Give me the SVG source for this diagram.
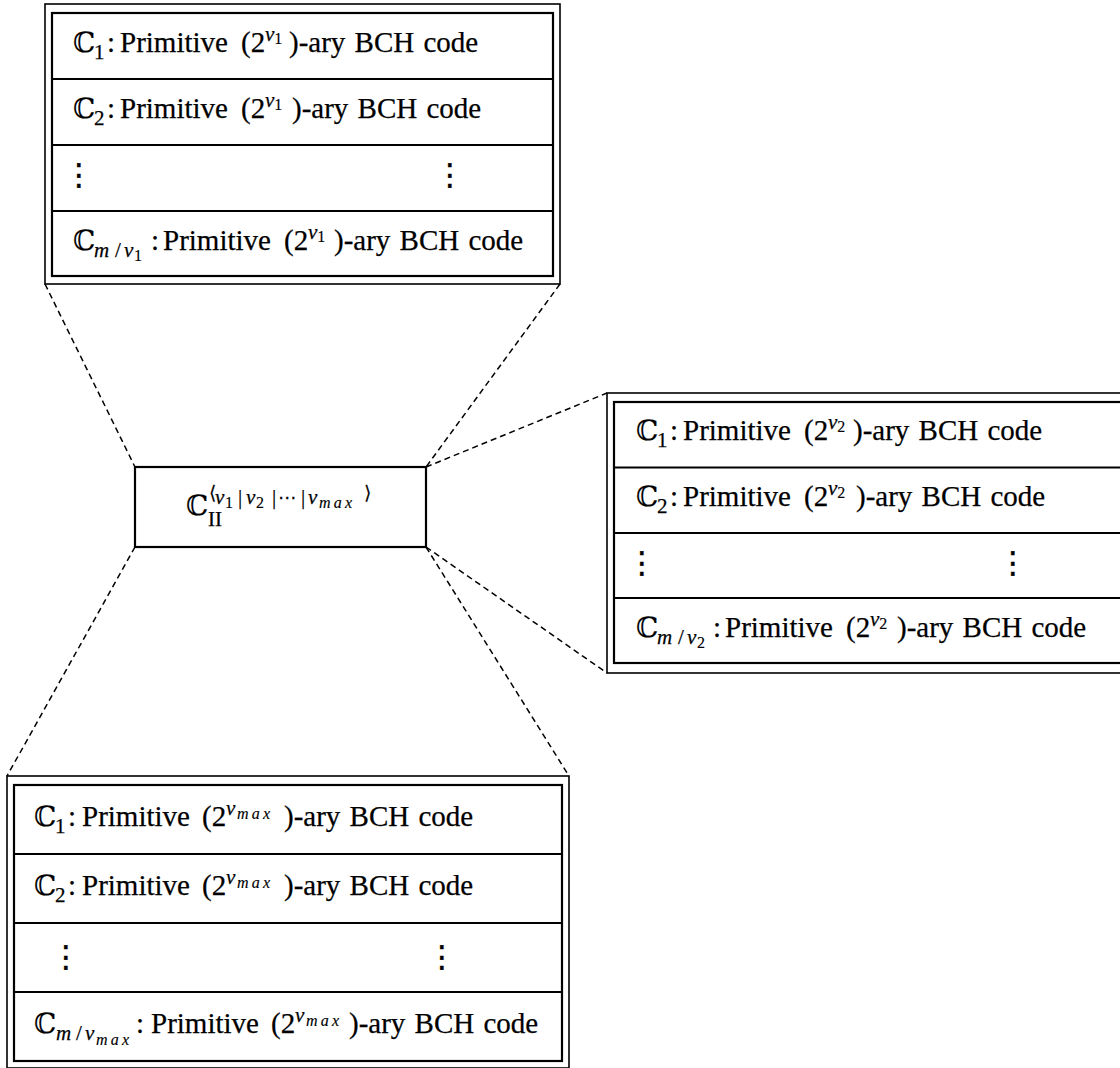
<svg xmlns="http://www.w3.org/2000/svg" width="1120" height="1068" viewBox="0 0 1120 1068" font-family="'Liberation Serif', 'Times New Roman', serif">
<style>
.bg{fill:#fff}
.outer{fill:none;stroke:#000;stroke-width:1.6}
.inner{fill:none;stroke:#000;stroke-width:2.2}
.row{stroke:#000;stroke-width:2}
.conn{fill:none;stroke:#000;stroke-width:1.5;stroke-dasharray:6 4}
.t{font-family:'Liberation Serif','Times New Roman',serif;font-size:29px;fill:#000;stroke:#000;stroke-width:0.25;word-spacing:2px}
.bb{font-family:'DejaVu Serif','DejaVu Sans',serif;font-size:28px;stroke-width:0.15}
.s1{font-size:21px}
.it{font-style:italic}
.sp{font-size:21px;font-style:italic}
.ss{font-size:16px;stroke-width:0.15}
.dots{font-family:'DejaVu Sans',sans-serif;font-size:30px;fill:#000;stroke:#000;stroke-width:0.5}
.sym{font-family:'DejaVu Sans',sans-serif;font-size:19px;stroke-width:0.15}
</style>
<rect class="bg" x="0" y="0" width="1120" height="1068"/>
<g id="connectors">
<line class="conn" x1="45" y1="284" x2="135" y2="467"/>
<line class="conn" x1="560" y1="284" x2="426" y2="467"/>
<line class="conn" x1="426" y1="467" x2="607" y2="393"/>
<line class="conn" x1="426" y1="547" x2="607" y2="673"/>
<line class="conn" x1="135" y1="547" x2="7" y2="776"/>
<line class="conn" x1="426" y1="547" x2="569" y2="776"/>
</g>
<g id="top-box">
<rect class="outer" x="45" y="4" width="515" height="280"/>
<rect class="inner" x="52" y="13" width="501" height="263"/>
<line class="row" x1="52" y1="79" x2="553" y2="79"/>
<line class="row" x1="52" y1="145" x2="553" y2="145"/>
<line class="row" x1="52" y1="211" x2="553" y2="211"/>
<text class="t" y="52"><tspan class="bb" x="73">ℂ</tspan><tspan class="s1" x="94" y="59">1</tspan><tspan x="107" y="52">:</tspan><tspan x="120">Primitive</tspan><tspan x="241">(2</tspan><tspan class="sp" x="265" y="41">v</tspan><tspan class="ss" y="44">1</tspan><tspan x="289" y="52">)-ary BCH code</tspan></text>
<text class="t" y="118"><tspan class="bb" x="73">ℂ</tspan><tspan class="s1" x="94" y="125">2</tspan><tspan x="107" y="118">:</tspan><tspan x="120">Primitive</tspan><tspan x="241">(2</tspan><tspan class="sp" x="265" y="107">v</tspan><tspan class="ss" y="110">1</tspan><tspan x="292" y="118">)-ary BCH code</tspan></text>
<text class="dots" x="64" y="185">⋮</text>
<text class="dots" x="435" y="185">⋮</text>
<text class="t" y="250"><tspan class="bb" x="73">ℂ</tspan><tspan class="s1 it" x="94" y="257">m</tspan><tspan class="s1" x="115">/</tspan><tspan class="s1 it" x="124">v</tspan><tspan class="ss" x="134" y="261">1</tspan><tspan x="151" y="250">:</tspan><tspan x="163">Primitive</tspan><tspan x="284">(2</tspan><tspan class="sp" x="308" y="239">v</tspan><tspan class="ss" y="242">1</tspan><tspan x="334" y="250">)-ary BCH code</tspan></text>
</g>
<g id="center-box">
<rect class="inner" x="135" y="467" width="291" height="80"/>
<text class="t" y="515"><tspan class="bb" x="186">ℂ</tspan><tspan class="s1" x="208" y="526">II</tspan><tspan class="sym" x="209" y="499">⟨</tspan><tspan class="s1 it" x="215" y="504">v</tspan><tspan class="ss" x="225" y="508">1</tspan><tspan class="s1" x="238" y="504">|</tspan><tspan class="s1 it" x="246">v</tspan><tspan class="ss" x="256" y="508">2</tspan><tspan class="s1" x="272" y="504">|</tspan><tspan class="sym" x="278">⋯</tspan><tspan class="s1" x="301">|</tspan><tspan class="s1 it" x="308">v</tspan><tspan class="ss it" x="319" y="508" textLength="33" lengthAdjust="spacing">max</tspan><tspan class="sym" x="364" y="499">⟩</tspan></text>
</g>
<g id="right-box">
<rect class="outer" x="607" y="393" width="600" height="280"/>
<rect class="inner" x="614" y="402" width="600" height="261"/>
<line class="row" x1="614" y1="467.5" x2="1120" y2="467.5"/>
<line class="row" x1="614" y1="533" x2="1120" y2="533"/>
<line class="row" x1="614" y1="598" x2="1120" y2="598"/>
<text class="t" y="440"><tspan class="bb" x="636">ℂ</tspan><tspan class="s1" x="657" y="447">1</tspan><tspan x="670" y="440">:</tspan><tspan x="683">Primitive</tspan><tspan x="804">(2</tspan><tspan class="sp" x="828" y="429">v</tspan><tspan class="ss" y="432">2</tspan><tspan x="853" y="440">)-ary BCH code</tspan></text>
<text class="t" y="506"><tspan class="bb" x="636">ℂ</tspan><tspan class="s1" x="657" y="513">2</tspan><tspan x="670" y="506">:</tspan><tspan x="683">Primitive</tspan><tspan x="804">(2</tspan><tspan class="sp" x="828" y="495">v</tspan><tspan class="ss" y="498">2</tspan><tspan x="856" y="506">)-ary BCH code</tspan></text>
<text class="dots" x="627" y="573">⋮</text>
<text class="dots" x="998" y="573">⋮</text>
<text class="t" y="637"><tspan class="bb" x="636">ℂ</tspan><tspan class="s1 it" x="657" y="644">m</tspan><tspan class="s1" x="678">/</tspan><tspan class="s1 it" x="687">v</tspan><tspan class="ss" x="697" y="648">2</tspan><tspan x="713" y="637">:</tspan><tspan x="725">Primitive</tspan><tspan x="846">(2</tspan><tspan class="sp" x="870" y="626">v</tspan><tspan class="ss" y="629">2</tspan><tspan x="897" y="637">)-ary BCH code</tspan></text>
</g>
<g id="bottom-box">
<rect class="outer" x="7" y="776" width="562" height="292"/>
<rect class="inner" x="14" y="785" width="548" height="276"/>
<line class="row" x1="14" y1="854" x2="562" y2="854"/>
<line class="row" x1="14" y1="923" x2="562" y2="923"/>
<line class="row" x1="14" y1="992" x2="562" y2="992"/>
<text class="t" y="826"><tspan class="bb" x="34">ℂ</tspan><tspan class="s1" x="55" y="833">1</tspan><tspan x="68" y="826">:</tspan><tspan x="82">Primitive</tspan><tspan x="202">(2</tspan><tspan class="sp" x="226" y="815">v</tspan><tspan class="ss it" x="237" y="819" textLength="33" lengthAdjust="spacing">max</tspan><tspan x="284" y="826">)-ary BCH code</tspan></text>
<text class="t" y="895"><tspan class="bb" x="34">ℂ</tspan><tspan class="s1" x="55" y="902">2</tspan><tspan x="68" y="895">:</tspan><tspan x="82">Primitive</tspan><tspan x="202">(2</tspan><tspan class="sp" x="226" y="884">v</tspan><tspan class="ss it" x="237" y="888" textLength="33" lengthAdjust="spacing">max</tspan><tspan x="284" y="895">)-ary BCH code</tspan></text>
<text class="dots" x="51" y="967">⋮</text>
<text class="dots" x="427" y="967">⋮</text>
<text class="t" y="1033"><tspan class="bb" x="34">ℂ</tspan><tspan class="s1 it" x="56" y="1040">m</tspan><tspan class="s1" x="76">/</tspan><tspan class="s1 it" x="85">v</tspan><tspan class="ss it" x="96" y="1045" textLength="33" lengthAdjust="spacing">max</tspan><tspan x="136" y="1033">:</tspan><tspan x="151">Primitive</tspan><tspan x="271">(2</tspan><tspan class="sp" x="295" y="1022">v</tspan><tspan class="ss it" x="306" y="1026" textLength="33" lengthAdjust="spacing">max</tspan><tspan x="349" y="1033">)-ary BCH code</tspan></text>
</g>
</svg>
